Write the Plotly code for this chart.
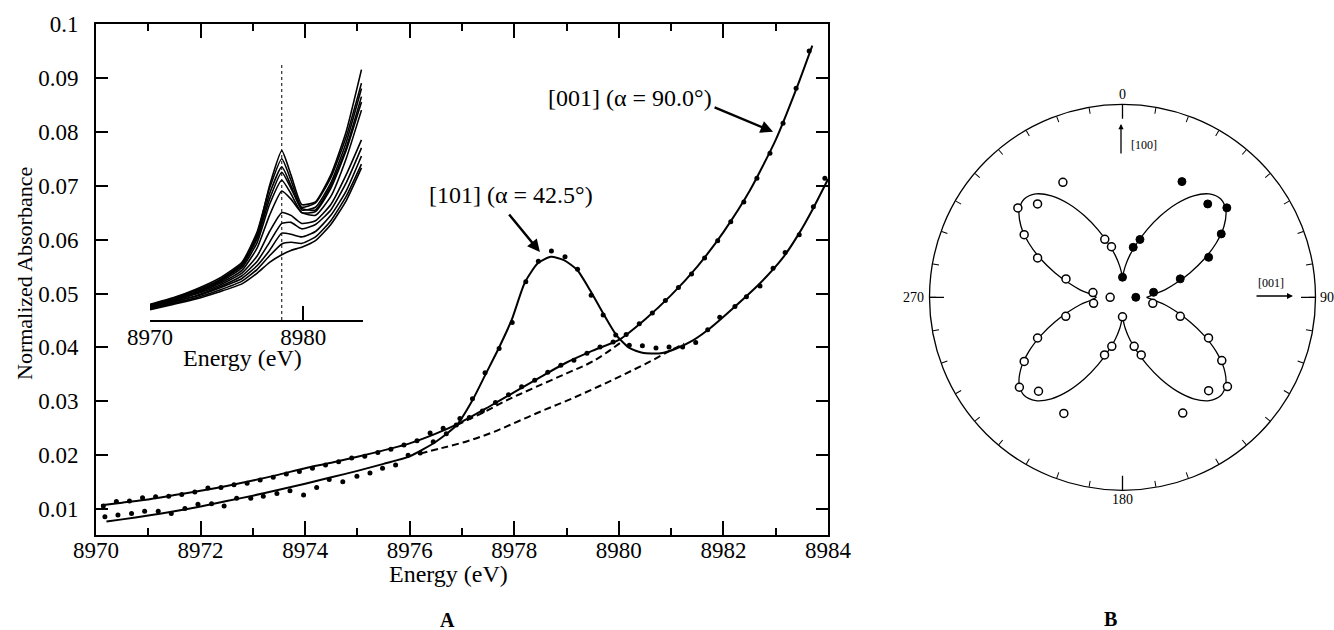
import plotly.graph_objects as go

FONT = "Liberation Serif, Times New Roman, serif"
W, H = 1334, 630

# ---------------- Panel A : main spectra ----------------
energy_001_fit = [8970.1, 8970.5, 8971.0, 8971.5, 8972.0, 8972.5, 8973.0, 8973.5, 8974.0, 8974.5,
                  8975.0, 8975.5, 8976.0, 8976.5, 8977.0, 8977.5, 8978.0, 8978.5, 8979.0, 8979.5,
                  8980.0, 8980.5, 8981.0, 8981.5, 8982.0, 8982.5, 8983.0, 8983.4, 8983.7]
abs_001_fit = [0.0107, 0.0112, 0.0118, 0.0126, 0.0134, 0.0143, 0.0153, 0.0164, 0.0176, 0.0186,
               0.0197, 0.0209, 0.0222, 0.0240, 0.0262, 0.0289, 0.0317, 0.0345, 0.0372, 0.0394,
               0.0414, 0.0452, 0.0497, 0.0550, 0.0614, 0.0690, 0.0785, 0.0881, 0.0960]

energy_101_fit = [8970.2, 8970.5, 8971.0, 8971.5, 8972.0, 8972.5, 8973.0, 8973.5, 8974.0, 8974.5,
                  8975.0, 8975.5, 8976.0, 8976.5, 8976.9, 8977.2, 8977.45, 8977.7, 8977.95, 8978.2,
                  8978.45, 8978.7, 8978.95, 8979.2, 8979.45, 8979.7, 8979.95, 8980.2, 8980.45, 8980.8,
                  8981.1, 8981.4, 8981.75, 8982.2, 8982.7, 8983.15, 8983.45, 8983.7, 8984.0]
abs_101_fit = [0.0077, 0.0081, 0.0088, 0.0096, 0.0105, 0.0115, 0.0125, 0.0136, 0.0147, 0.0159,
               0.0171, 0.0184, 0.0198, 0.0225, 0.0256, 0.0302, 0.0350, 0.0398, 0.0451, 0.0520,
               0.0556, 0.0568, 0.0562, 0.0544, 0.0506, 0.0463, 0.0423, 0.0399, 0.0390, 0.0389,
               0.0398, 0.0412, 0.0436, 0.0474, 0.0519, 0.0568, 0.0612, 0.0655, 0.0712]

energy_001_pts = [8970.14, 8970.39, 8970.64, 8970.89, 8971.14, 8971.39, 8971.64, 8971.89, 8972.14, 8972.39,
                  8972.64, 8972.89, 8973.14, 8973.39, 8973.64, 8973.89, 8974.14, 8974.39, 8974.64, 8974.89,
                  8975.14, 8975.39, 8975.64, 8975.89, 8976.14, 8976.39, 8976.64, 8976.89, 8977.14, 8977.39,
                  8977.64, 8977.89, 8978.14, 8978.39, 8978.64, 8978.89, 8979.14, 8979.39, 8979.64, 8979.89,
                  8980.14, 8980.39, 8980.64, 8980.89, 8981.14, 8981.39, 8981.64, 8981.89, 8982.14, 8982.39,
                  8982.64, 8982.89, 8983.14, 8983.39, 8983.64]
abs_001_pts = [0.0106, 0.0114, 0.0115, 0.0121, 0.0123, 0.0124, 0.0127, 0.0132, 0.0139, 0.0140,
               0.0145, 0.0148, 0.0154, 0.0159, 0.0165, 0.0170, 0.0176, 0.0182, 0.0188, 0.0195,
               0.0198, 0.0205, 0.0211, 0.0219, 0.0227, 0.0241, 0.0250, 0.0256, 0.0270, 0.0282,
               0.0298, 0.0312, 0.0327, 0.0339, 0.0354, 0.0367, 0.0376, 0.0389, 0.0401, 0.0410,
               0.0424, 0.0444, 0.0464, 0.0487, 0.0511, 0.0536, 0.0566, 0.0598, 0.0633, 0.0670,
               0.0714, 0.0760, 0.0816, 0.0881, 0.0950]

energy_101_pts = [8970.17, 8970.42, 8970.68, 8970.93, 8971.19, 8971.44, 8971.70, 8971.95, 8972.21, 8972.45,
                  8972.69, 8972.96, 8973.20, 8973.46, 8973.71, 8973.97, 8974.22, 8974.46, 8974.72, 8974.99,
                  8975.24, 8975.48, 8975.73, 8975.97, 8976.20, 8976.45, 8976.70, 8976.96, 8977.20, 8977.44,
                  8977.71, 8977.96, 8978.22, 8978.46, 8978.71, 8978.97, 8979.21, 8979.47, 8979.70, 8979.94,
                  8980.20, 8980.45, 8980.71, 8980.96, 8981.22, 8981.47, 8981.70, 8981.93, 8982.22, 8982.44,
                  8982.70, 8982.95, 8983.18, 8983.45, 8983.72, 8983.94]
abs_101_pts = [0.0086, 0.0089, 0.0092, 0.0096, 0.0096, 0.0092, 0.0101, 0.0109, 0.0110, 0.0106,
               0.0120, 0.0120, 0.0124, 0.0129, 0.0134, 0.0126, 0.0140, 0.0155, 0.0151, 0.0161,
               0.0167, 0.0176, 0.0182, 0.0200, 0.0204, 0.0225, 0.0240, 0.0268, 0.0305, 0.0353,
               0.0398, 0.0446, 0.0522, 0.0560, 0.0579, 0.0568, 0.0545, 0.0497, 0.0460, 0.0423,
               0.0404, 0.0403, 0.0399, 0.0401, 0.0401, 0.0409, 0.0433, 0.0456, 0.0476, 0.0494,
               0.0514, 0.0547, 0.0576, 0.0609, 0.0661, 0.0714]

energy_base_upper = [8976.9, 8977.4, 8977.9, 8978.4, 8979.0, 8979.5, 8980.05]
abs_base_upper = [0.0256, 0.0279, 0.0304, 0.0326, 0.0352, 0.0374, 0.0410]
energy_base_lower = [8976.2, 8976.6, 8977.1, 8977.6, 8978.1, 8978.6, 8979.1, 8979.6, 8980.1, 8980.6, 8981.0, 8981.25]
abs_base_lower = [0.0203, 0.0213, 0.0226, 0.0243, 0.0264, 0.0285, 0.0305, 0.0327, 0.0350, 0.0374, 0.0395, 0.0407]

x_ticks_main = [8970, 8972, 8974, 8976, 8978, 8980, 8982, 8984]
y_ticks_main = [0.01, 0.02, 0.03, 0.04, 0.05, 0.06, 0.07, 0.08, 0.09, 0.1]
y_tick_text = ["0.01", "0.02", "0.03", "0.04", "0.05", "0.06", "0.07", "0.08", "0.09", "0.1"]

# ---------------- Panel A : inset (angle series) ----------------
inset_energy = [8970.0, 8971.5, 8973.0, 8974.5, 8976.0, 8977.0, 8977.8, 8978.6, 8979.2, 8979.9,
                8980.8, 8981.8, 8982.8, 8983.8]
inset_spectra = [
    [0.0478, 0.0490, 0.0505, 0.0525, 0.0555, 0.0610, 0.0700, 0.0765, 0.0720, 0.0665, 0.0670, 0.0720, 0.0800, 0.0915],
    [0.0480, 0.0492, 0.0508, 0.0528, 0.0558, 0.0615, 0.0695, 0.0750, 0.0710, 0.0660, 0.0668, 0.0715, 0.0790, 0.0890],
    [0.0475, 0.0488, 0.0503, 0.0522, 0.0552, 0.0605, 0.0685, 0.0735, 0.0700, 0.0655, 0.0660, 0.0705, 0.0780, 0.0880],
    [0.0479, 0.0491, 0.0506, 0.0524, 0.0553, 0.0602, 0.0675, 0.0725, 0.0695, 0.0658, 0.0655, 0.0700, 0.0770, 0.0865],
    [0.0476, 0.0489, 0.0502, 0.0520, 0.0548, 0.0595, 0.0665, 0.0710, 0.0685, 0.0650, 0.0652, 0.0695, 0.0765, 0.0855],
    [0.0474, 0.0486, 0.0500, 0.0518, 0.0543, 0.0585, 0.0645, 0.0690, 0.0675, 0.0650, 0.0645, 0.0680, 0.0750, 0.0840],
    [0.0477, 0.0487, 0.0499, 0.0515, 0.0538, 0.0570, 0.0615, 0.0650, 0.0645, 0.0630, 0.0635, 0.0665, 0.0720, 0.0785],
    [0.0473, 0.0484, 0.0496, 0.0512, 0.0533, 0.0560, 0.0595, 0.0630, 0.0632, 0.0620, 0.0628, 0.0655, 0.0705, 0.0770],
    [0.0475, 0.0485, 0.0495, 0.0510, 0.0528, 0.0552, 0.0580, 0.0612, 0.0610, 0.0605, 0.0615, 0.0645, 0.0690, 0.0755],
    [0.0472, 0.0482, 0.0492, 0.0506, 0.0523, 0.0545, 0.0570, 0.0592, 0.0595, 0.0593, 0.0605, 0.0635, 0.0680, 0.0740],
    [0.0470, 0.0480, 0.0490, 0.0503, 0.0518, 0.0538, 0.0558, 0.0572, 0.0580, 0.0586, 0.0598, 0.0628, 0.0672, 0.0733],
]
inset_marker_energy = 8978.6
inset_marker_abs = [0.0451, 0.0928]
inset_ticks = [8970, 8980]

# ---------------- Panel B : polar plot ----------------
polar_fit_theta = [0, 5, 10, 15, 20, 25, 30, 35, 40, 45, 50, 55, 60, 65, 70, 75, 80, 85, 90,
                   95, 100, 105, 110, 115, 120, 125, 130, 135, 140, 145, 150, 155, 160, 165, 170, 175, 180,
                   185, 190, 195, 200, 205, 210, 215, 220, 225, 230, 235, 240, 245, 250, 255, 260, 265, 270,
                   275, 280, 285, 290, 295, 300, 305, 310, 315, 320, 325, 330, 335, 340, 345, 350, 355, 360]
polar_fit_r = [10.5, 16.1, 22.3, 29.0, 37.3, 46.6, 56.0, 64.2, 69.9, 72.0, 69.9, 64.2, 56.0, 46.6, 37.3, 29.0, 22.3, 16.1, 12.5,
               16.1, 22.3, 29.0, 37.3, 46.6, 56.0, 64.2, 69.9, 72.0, 69.9, 64.2, 56.0, 46.6, 37.3, 29.0, 22.3, 16.1, 10.0,
               16.1, 22.3, 29.0, 37.3, 46.6, 56.0, 64.2, 69.9, 72.0, 69.9, 64.2, 56.0, 46.6, 37.3, 29.0, 22.3, 16.1, 13.5,
               16.1, 22.3, 29.0, 37.3, 46.6, 56.0, 64.2, 69.9, 72.0, 69.9, 64.2, 56.0, 46.6, 37.3, 29.0, 22.3, 16.1, 10.5]

filled_theta = [0, 12.1, 16.8, 27.2, 42.4, 49.4, 57.3, 65.1, 72.3, 80.8, 90]
filled_r = [10.4, 26.5, 31.3, 67.4, 65.5, 71.2, 60.8, 49.2, 31.4, 16.3, 6.9]

open_theta = [270, 279.0, 288.0, 294.9, 302.5, 310.5, 317.7, 332.6, 343.0, 347.7,
              101.2, 108.2, 115.3, 122.5, 130.4, 137.3, 152.5, 162.0, 166.6, 180,
              192.3, 197.3, 206.8, 221.8, 228.9, 236.9, 244.4, 251.5, 258.3]
open_r = [6.4, 15.5, 30.8, 48.5, 60.4, 71.3, 65.4, 67.1, 31.4, 26.8,
          16.0, 31.5, 49.3, 61.0, 71.4, 65.8, 67.6, 31.4, 26.1, 10.1,
          26.0, 31.3, 67.4, 65.3, 70.9, 60.8, 48.8, 31.0, 15.3]

angle_labels = ["0", "90", "180", "270"]


def px(x):
    return x / W


def py(y):
    return 1 - y / H


def label(text, x, y, font, **kw):
    d = dict(text=text, x=px(x), y=py(y), xref="paper", yref="paper", showarrow=False,
             xanchor="center", yanchor="middle", font=font)
    d.update(kw)
    return d


fig = go.Figure()

line_style = dict(color="black", width=2, shape="spline", smoothing=0.6)
fig.add_trace(go.Scatter(x=energy_001_fit, y=abs_001_fit, mode="lines", line=line_style))
fig.add_trace(go.Scatter(x=energy_101_fit, y=abs_101_fit, mode="lines", line=line_style))
fig.add_trace(go.Scatter(x=energy_base_upper, y=abs_base_upper, mode="lines",
                         line=dict(color="black", width=2, dash="7px,4px", shape="spline")))
fig.add_trace(go.Scatter(x=energy_base_lower, y=abs_base_lower, mode="lines",
                         line=dict(color="black", width=2, dash="7px,4px", shape="spline")))
fig.add_trace(go.Scatter(x=energy_001_pts, y=abs_001_pts, mode="markers",
                         marker=dict(color="black", size=5)))
fig.add_trace(go.Scatter(x=energy_101_pts, y=abs_101_pts, mode="markers",
                         marker=dict(color="black", size=5)))

# inset
for spec in inset_spectra:
    fig.add_trace(go.Scatter(x=inset_energy, y=spec, mode="lines", xaxis="x2", yaxis="y2",
                             line=dict(color="black", width=1.6, shape="spline", smoothing=0.5)))
fig.add_trace(go.Scatter(x=[inset_marker_energy, inset_marker_energy], y=inset_marker_abs,
                         mode="lines", xaxis="x2", yaxis="y2",
                         line=dict(color="black", width=1, dash="dot")))

# polar
lobes = [(0, 19), (18, 37), (36, 55), (54, 73)]
for a, b in lobes:
    fig.add_trace(go.Scatterpolar(theta=polar_fit_theta[a:b], r=polar_fit_r[a:b], mode="lines",
                                  line=dict(color="black", width=1.3, shape="spline"),
                                  subplot="polar"))
# major angular ticks
fig.add_trace(go.Scatterpolar(theta=[0, 0, None, 90, 90, None, 180, 180, None, 270, 270],
                              r=[92.5, 100, None, 92.5, 100, None, 92.5, 100, None, 92.5, 100],
                              mode="lines", line=dict(color="black", width=1.3),
                              connectgaps=False, subplot="polar"))
fig.add_trace(go.Scatterpolar(theta=open_theta, r=open_r, mode="markers", subplot="polar",
                              marker=dict(symbol="circle", size=8, color="white",
                                          line=dict(color="black", width=1.5))))
fig.add_trace(go.Scatterpolar(theta=filled_theta, r=filled_r, mode="markers", subplot="polar",
                              marker=dict(symbol="circle", size=8, color="black",
                                          line=dict(color="black", width=1))))

tickfont = dict(family=FONT, size=23, color="black")
ann_font = dict(family=FONT, size=24, color="black")
small_font = dict(family=FONT, size=14, color="black")
tiny_font = dict(family=FONT, size=12, color="black")

annotations = [
    label("Normalized Absorbance", 24, 274, dict(family=FONT, size=22, color="black"), textangle=-90),
    label("Energy (eV)", 448, 574, ann_font),
    label("Energy (eV)", 242, 358, ann_font),
    label("[001] (α = 90.0°)", 630, 98, ann_font),
    label("[101] (α = 42.5°)", 511, 195, ann_font),
    dict(text="", x=8982.95, y=0.0800, xref="x", yref="y", ax=-60, ay=-25,
         showarrow=True, arrowhead=2, arrowsize=1, arrowwidth=2.5, arrowcolor="black"),
    dict(text="", x=8978.49, y=0.0577, xref="x", yref="y", ax=-32, ay=-39,
         showarrow=True, arrowhead=2, arrowsize=1, arrowwidth=2.5, arrowcolor="black"),
    label("<b>A</b>", 447, 620, dict(family=FONT, size=20, color="black")),
    label("<b>B</b>", 1110, 619, dict(family=FONT, size=20, color="black")),
    # polar labels
    label(angle_labels[0], 1122, 94, small_font),
    label(angle_labels[1], 1327, 297, small_font),
    label(angle_labels[2], 1122, 499, small_font),
    label(angle_labels[3], 913, 297, small_font),
    label("[100]", 1144, 145, tiny_font),
    label("[001]", 1271, 283, tiny_font),
    dict(text="", x=px(1121), y=py(124), xref="paper", yref="paper", ax=0, ay=31,
         showarrow=True, arrowhead=2, arrowsize=0.8, arrowwidth=1.3, arrowcolor="black"),
    dict(text="", x=px(1293), y=py(296), xref="paper", yref="paper", ax=-38, ay=0,
         showarrow=True, arrowhead=2, arrowsize=0.8, arrowwidth=1.5, arrowcolor="black"),
]

fig.update_layout(
    width=W, height=H,
    margin=dict(l=0, r=0, t=0, b=0, autoexpand=False),
    paper_bgcolor="white", plot_bgcolor="rgba(0,0,0,0)",
    showlegend=False,
    font=dict(family=FONT, color="black"),
    xaxis=dict(domain=[px(96), px(828)], range=[8970, 8984], anchor="y", automargin=False,
               tickvals=x_ticks_main, ticks="inside", ticklen=14, tickwidth=1.5, tickcolor="black",
               minor=dict(dtick=1, tick0=8970, ticks="inside", ticklen=7, tickwidth=1.5, tickcolor="black"),
               mirror="allticks", showline=True, linewidth=2, linecolor="black",
               showgrid=False, zeroline=False, tickfont=tickfont, ticklabelstandoff=-7),
    yaxis=dict(domain=[py(535), py(24)], range=[0.0052, 0.1], anchor="x", automargin=False,
               tickvals=y_ticks_main, ticktext=y_tick_text, ticks="inside", ticklen=12,
               tickwidth=1.5, tickcolor="black", mirror="allticks", showline=True, linewidth=2,
               linecolor="black", showgrid=False, zeroline=False, tickfont=tickfont,
               ticklabelstandoff=11),
    xaxis2=dict(domain=[px(150), px(363)], range=[8970, 8983.9], anchor="y2", automargin=False,
                tickvals=inset_ticks, ticks="inside", ticklen=14, tickwidth=1.5, tickcolor="black",
                showline=True, linewidth=2, linecolor="black", showgrid=False, zeroline=False,
                tickfont=tickfont, ticklabelstandoff=-5),
    yaxis2=dict(domain=[py(320), py(40)], range=[0.0451, 0.0970], anchor="x2", visible=False,
                automargin=False),
    polar=dict(domain=dict(x=[px(929.5), px(1315.5)], y=[py(490.6), py(104)]),
               bgcolor="white",
               angularaxis=dict(rotation=90, direction="clockwise", ticks="inside", ticklen=6,
                                tickwidth=1, tickcolor="black", dtick=10, showticklabels=False,
                                showline=True, linecolor="black", linewidth=1.3, showgrid=False),
               radialaxis=dict(visible=False, range=[0, 100])),
    annotations=annotations,
)

fig.write_html("out.html")
